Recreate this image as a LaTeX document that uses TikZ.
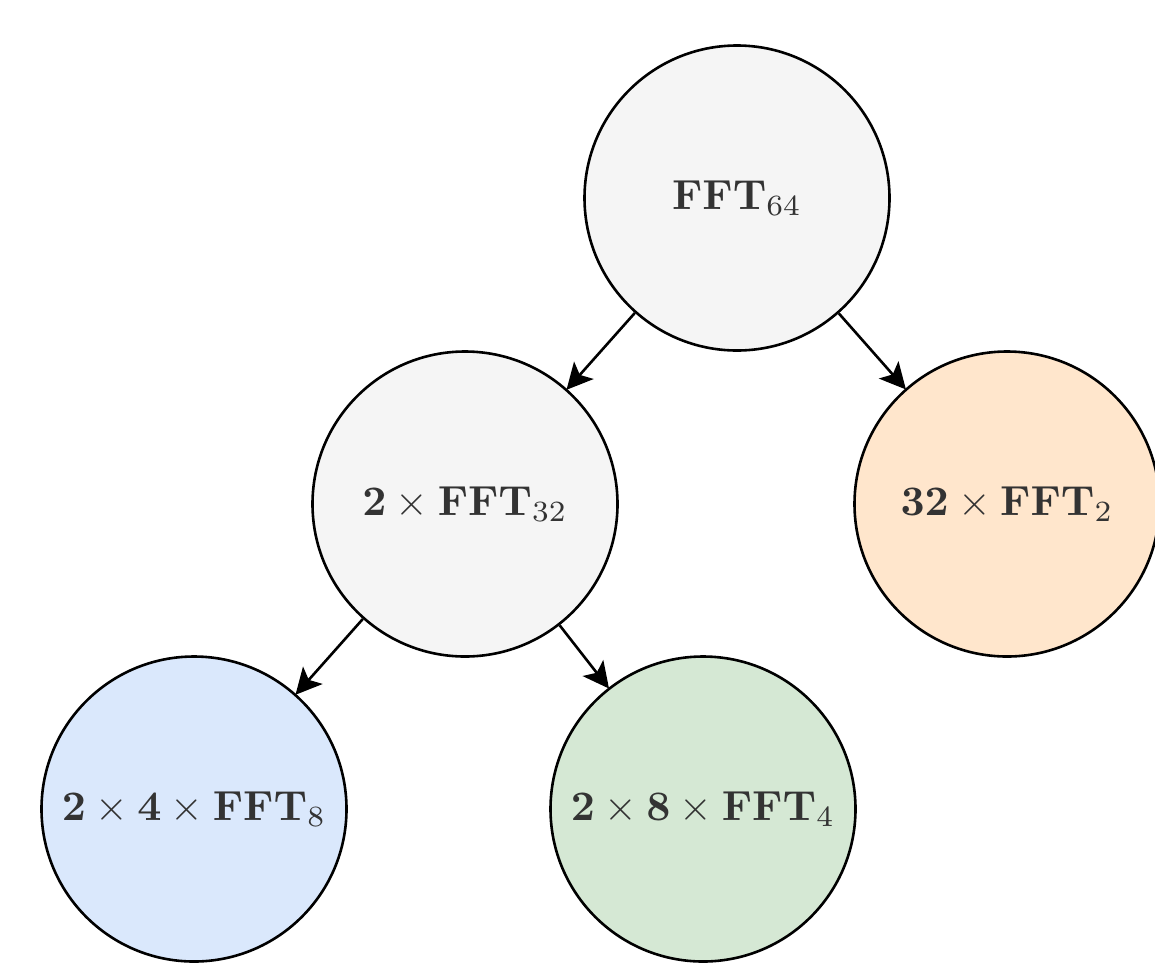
\documentclass[tikz,border=0pt]{standalone}
\usetikzlibrary{arrows.meta}
\definecolor{txt}{HTML}{333333}
\definecolor{grayfill}{HTML}{F5F5F5}
\definecolor{orangefill}{HTML}{FFE6CC}
\definecolor{bluefill}{HTML}{DAE8FC}
\definecolor{greenfill}{HTML}{D5E8D4}
\newcommand{\bigtxt}[1]{\scalebox{4.2}{#1}}
\begin{document}
\begin{tikzpicture}[x=1pt,y=-1pt,
  fftnode/.style={circle, draw=black, line width=2.6pt, minimum size=305pt, inner sep=0pt,
    text=txt},
  conn/.style={line width=2.6pt, -{Stealth[length=26pt,width=26pt,inset=6pt]}, shorten >=-1pt}]
\useasboundingbox (0,0) rectangle (1155,962);
\node[fftnode, fill=grayfill] (top) at (737,198) {\bigtxt{$\mathbf{FFT}_{64}$}};
\node[fftnode, fill=grayfill] (midl) at (465,504) {\bigtxt{$\mathbf{2}\times\mathbf{FFT}_{32}$}};
\node[fftnode, fill=orangefill] (midr) at (1007,504) {\bigtxt{$\mathbf{32}\times\mathbf{FFT}_{2}$}};
\node[fftnode, fill=bluefill] (botl) at (194,809) {\bigtxt{$\mathbf{2}\times\mathbf{4}\times\mathbf{FFT}_{8}$}};
\node[fftnode, fill=greenfill] (botm) at (703,809) {\bigtxt{$\mathbf{2}\times\mathbf{8}\times\mathbf{FFT}_{4}$}};
\draw[conn] (top) -- (midl);
\draw[conn] (top) -- (midr);
\draw[conn] (midl) -- (botl);
\draw[conn] (midl) -- (botm);
\end{tikzpicture}
\end{document}
